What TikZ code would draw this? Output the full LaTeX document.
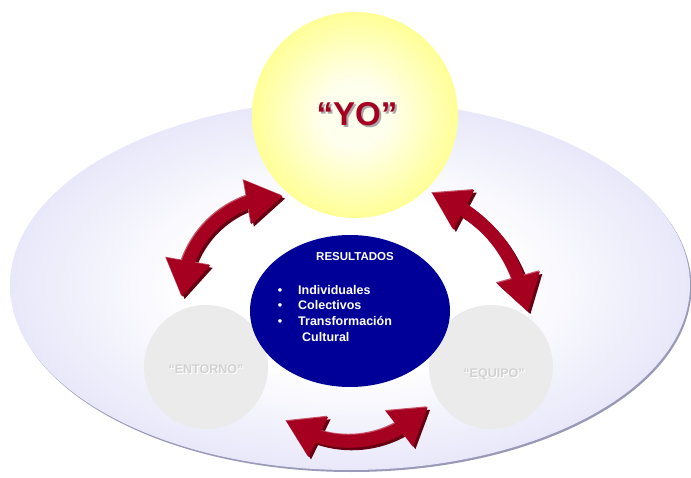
\documentclass[tikz,border=0pt]{standalone}
\usepackage{fontspec}
\setmainfont{Liberation Sans}
\usetikzlibrary{shapes.geometric,arrows.meta,bending}

\definecolor{lav}{HTML}{D6D6F6}
\definecolor{lavrim}{HTML}{9A9AB8}
\definecolor{sunin}{HTML}{FFFFEE}
\definecolor{sunmid}{HTML}{FFFF9C}
\definecolor{sunout}{HTML}{FFFF55}
\definecolor{navy}{HTML}{000099}
\definecolor{pale}{HTML}{EBEBEB}
\definecolor{paletext}{HTML}{D2D2D2}
\definecolor{wine}{HTML}{A5001F}
\definecolor{winedark}{HTML}{650012}
\definecolor{winelight}{HTML}{C8566A}
\definecolor{yoshade}{HTML}{A8A8A8}

% the fitted shape's rim sits at about 35bp of these shadings
\pgfdeclareradialshading{ovalglow}{\pgfpoint{0bp}{0bp}}{color(0bp)=(white); color(12bp)=(white); color(35bp)=(lav); color(50bp)=(lav)}
\pgfdeclareradialshading{sunglow}{\pgfpoint{0bp}{0bp}}{color(0bp)=(sunin); color(8bp)=(sunin); color(24bp)=(sunmid); color(35bp)=(sunout); color(50bp)=(sunout)}

% text with an offset copy behind it (drop shadow or embossed rim)
\newcommand\shadowed[4]{%
  \makebox[0pt][l]{\hspace*{#3}\raisebox{-#3}{\color{#2}#1}}{\color{#4}#1}}

\tikzset{
  roundel/.style={circle, inner sep=0pt, draw=none},
  swooshline/.style={line width=13pt,
    {Triangle[length=36pt,width=42pt]}-{Triangle[length=36pt,width=42pt]}},
  bodytext/.style={text=white, font=\bfseries\fontsize{12.5}{14}\selectfont, inner sep=0pt},
  ghosttext/.style={font=\bfseries\fontsize{12.5}{14}\selectfont, inner sep=0pt},
}

% a curved double arrow with a dark shadow and a light rim
\newcommand\swoosh[3]{%
  \draw[swooshline, draw=winedark, transform canvas={shift={(2.5pt,-2.5pt)}}] (#1) to[#3] (#2);
  \draw[swooshline, draw=winelight, transform canvas={shift={(-1pt,1pt)}}] (#1) to[#3] (#2);
  \draw[swooshline, draw=wine] (#1) to[#3] (#2);
}

\begin{document}
\begin{tikzpicture}[x=1pt,y=-1pt]
  \useasboundingbox (0,0) rectangle (691,478);

  % outer field
  \node[ellipse, minimum width=680pt, minimum height=370pt, inner sep=0pt,
        fill=lavrim] (fieldrim) at (351.5,287) {};
  \node[ellipse, minimum width=680pt, minimum height=370pt, inner sep=0pt,
        shading=ovalglow] (field) at (350,285) {};

  % the self
  \node[roundel, minimum size=206pt, shading=sunglow] (yo) at (355,115) {};
  \node[font=\bfseries\fontsize{33}{36}\selectfont] (yolabel) at (357,115)
    {\shadowed{“YO”}{yoshade}{2pt}{wine}};

  % surroundings and team
  \node[roundel, minimum size=124pt, fill=pale] (entorno) at (206,367) {};
  \node[roundel, minimum size=124pt, fill=pale] (equipo) at (491,367) {};
  \node[ghosttext] (entornolabel) at (206,370)
    {\shadowed{“ENTORNO”}{white}{1pt}{paletext}};
  \node[ghosttext] (equipolabel) at (494,375)
    {\shadowed{“EQUIPO”}{white}{1pt}{paletext}};

  % results
  \node[ellipse, minimum width=200pt, minimum height=152pt, inner sep=0pt,
        fill=navy] (results) at (350,311) {};
  \node[text=white, font=\bfseries\fontsize{11.5}{14}\selectfont, inner sep=0pt] (title) at (355,257) {RESULTADOS};
  \node[bodytext, anchor=base] (b1) at (280,294.5) {•};
  \node[bodytext, anchor=base] (b2) at (280,309.5) {•};
  \node[bodytext, anchor=base] (b3) at (280,325.5) {•};
  \node[bodytext, anchor=base west] (i1) at (298,294.5) {Individuales};
  \node[bodytext, anchor=base west] (i2) at (298,309.5) {Colectivos};
  \node[bodytext, anchor=base west] (i3) at (298,325.5) {Transformación};
  \node[bodytext, anchor=base west] (i4) at (302,341.5) {Cultural};

  % arrow ends
  \coordinate (lA) at (182,297);
  \coordinate (lB) at (283,196);
  \coordinate (rA) at (432,193);
  \coordinate (rB) at (528,312);
  \coordinate (bA) at (286,421);
  \coordinate (bB) at (428,407);

  \swoosh{lA}{lB}{bend left=45}
  \swoosh{rA}{rB}{bend left=28}
  \swoosh{bA}{bB}{bend right=40}
\end{tikzpicture}
\end{document}
